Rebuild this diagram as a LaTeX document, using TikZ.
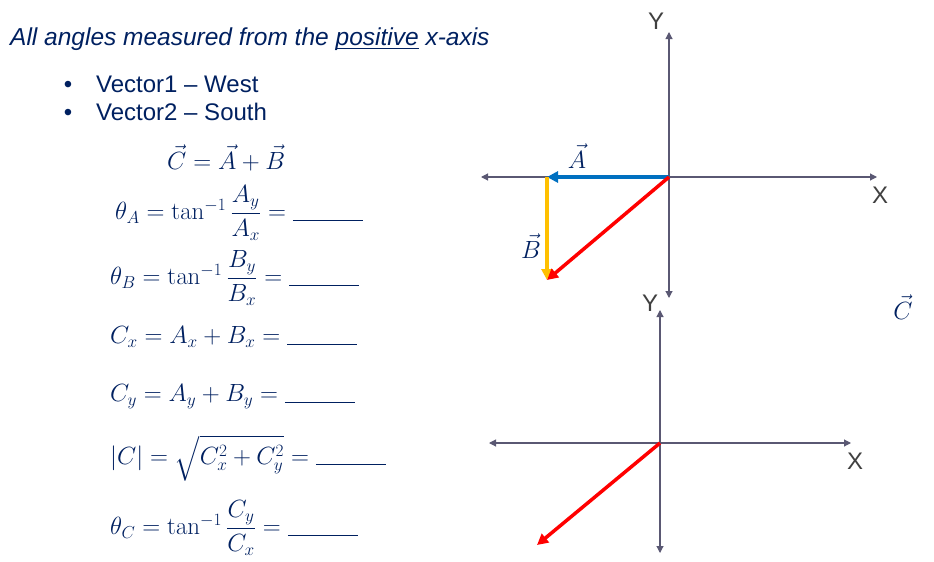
\documentclass[tikz,border=0pt]{standalone}
\usepackage{amsmath}
\usepackage[no-math]{fontspec}
\setmainfont{Liberation Sans}
\usepackage{tikz}
\usetikzlibrary{arrows.meta}
\definecolor{navy}{HTML}{002060}
\definecolor{axisgray}{HTML}{5A5873}
\definecolor{labelgray}{HTML}{404040}
\definecolor{vecblue}{HTML}{0070C0}
\definecolor{vecyellow}{HTML}{FFC000}
\newcommand{\answerline}{\rule[-1pt]{70pt}{0.9pt}}
\newcommand{\lowunderline}[1]{\setbox0\hbox{#1}\rlap{\rule[-4pt]{\wd0}{1.1pt}}\box0\relax}
\tikzset{
  axis/.style={axisgray, line width=1.1pt, {Triangle[length=7pt,width=7pt]}-{Triangle[length=7pt,width=7pt]}},
  vecline/.style={line width=3.5pt, -{Triangle[length=11pt,width=11pt]}},
  axislabel/.style={labelgray, font=\fontsize{24}{28}\selectfont, inner sep=0},
  veclabel/.style={navy, font=\fontsize{23}{27}\selectfont, inner sep=0},
  eqn/.style={navy, anchor=west, inner sep=0, font=\fontsize{25}{30}\selectfont},
  bodytext/.style={navy, anchor=base west, inner sep=0, font=\fontsize{24}{28}\selectfont}
}

\begin{document}
\begin{tikzpicture}[x=1pt,y=-1pt]
\useasboundingbox (0,0) rectangle (934,562);
%%Text
\node[bodytext, font=\itshape\fontsize{24.5}{28}\selectfont] (title) at (10,45) {All angles measured from the \lowunderline{positive} x-axis};
\node[bodytext, anchor=base] (bul1) at (68,92) {\textbullet};
\node[bodytext, anchor=base] (bul2) at (68,120) {\textbullet};
\node[bodytext] (west) at (96,92) {Vector1 -- West};
\node[bodytext] (south) at (96,120) {Vector2 -- South};
%%Equations
\node[eqn] (sum) at (167,158) {$\vec{C}=\vec{A}+\vec{B}$};
\node[eqn] (thA) at (115,213) {$\theta_A=\tan^{-1}\dfrac{A_y}{A_x}=\answerline$};
\node[eqn] (thB) at (110,278) {$\theta_B=\tan^{-1}\dfrac{B_y}{B_x}=\answerline$};
\node[eqn] (cx) at (110,337) {$C_x=A_x+B_x=\answerline$};
\node[eqn] (cy) at (110,397) {$C_y=A_y+B_y=\answerline$};
\node[eqn] (mag) at (110,458) {$|C|=\sqrt{C_x^2+C_y^2}=\answerline$};
\node[eqn] (thC) at (110,528) {$\theta_C=\tan^{-1}\dfrac{C_y}{C_x}=\answerline$};
%%Upper axes
\coordinate (O1) at (669,177);
\coordinate (L1) at (481,177);
\coordinate (R1) at (877,177);
\coordinate (T1) at (669,32);
\coordinate (D1) at (669,298);
\draw[axis] (L1) -- (R1);
\draw[axis] (D1) -- (T1);
\node[axislabel] (Y1) at (656,21) {Y};
\node[axislabel] (X1) at (880,195) {X};
%%Vectors
\coordinate (A1) at (547,177);
\coordinate (B1) at (547,280);
\draw[vecline, vecblue] (O1) -- (A1);
\draw[vecline, vecyellow] (A1) -- (B1);
\draw[vecline, red] (O1) -- (B1);
\node[veclabel] (lA) at (577,156) {$\vec{A}$};
\node[veclabel] (lB) at (531,246) {$\vec{B}$};
\node[veclabel] (lC) at (903,307) {$\vec{C}$};
%%Lower axes
\coordinate (O2) at (660,443);
\coordinate (L2) at (489,443);
\coordinate (R2) at (851,443);
\coordinate (T2) at (660,310);
\coordinate (D2) at (660,553);
\draw[axis] (L2) -- (R2);
\draw[axis] (D2) -- (T2);
\node[axislabel] (Y2) at (650,303) {Y};
\node[axislabel] (X2) at (855,461) {X};
\coordinate (C2) at (537,545);
\draw[vecline, red] (O2) -- (C2);
\end{tikzpicture}
\end{document}
